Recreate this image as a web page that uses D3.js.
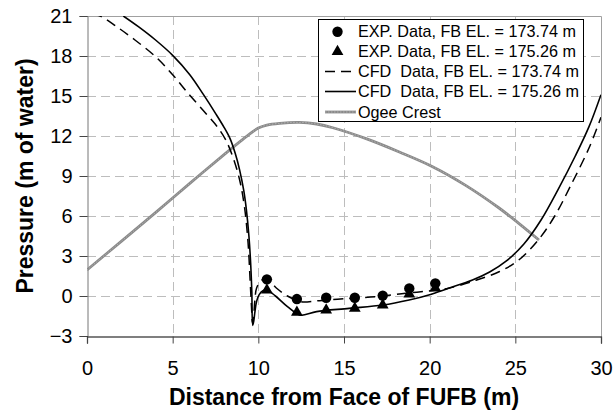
<!DOCTYPE html>
<html><head><meta charset="utf-8">
<script src="https://cdn.jsdelivr.net/npm/d3@7"></script>
<style>body{margin:0;background:#fff}svg{display:block;font-family:Arial,"Liberation Sans",sans-serif}</style>
</head><body>
<script>
// ---- data ----
const xTicks = [0,5,10,15,20,25,30];
const yTicks = [-3,0,3,6,9,12,15,18,21];
const expX = [10.5,12.25,13.96,15.63,17.26,18.81,20.33];
const exp17374 = [1.25,-0.23,-0.13,-0.13,0.03,0.57,0.95];
const exp17526 = [0.45,-1.23,-1.05,-0.93,-0.68,0.15,0.6];
const cfd17374X = [0.3,0.76,1.73,2.8,4.0,5.0,5.9,6.9,7.6,8.1,8.52,8.91,9.2,9.4,9.52,9.6,9.66,9.72,9.8,9.9,10.17,10.5,11.05,11.7,12.3,12.6,13.57,15.3,16.87,18.6,20.4,21.1,22.5,24.05,25.2,26.4,27.3,28.2,29.3,30];
const cfd17374Y = [21.1,21.0,20.2,19.2,17.95,16.6,15.2,13.75,12.7,11.7,10.4,8.7,6.6,4.0,1.2,-0.8,-2.0,-1.6,-0.3,0.6,1.15,1.3,0.6,0.0,-0.35,-0.45,-0.35,-0.18,-0.05,0.2,0.45,0.58,1.1,1.82,2.7,4.3,6.0,8.2,11.1,13.4];
const cfd17526X = [2.12,3.0,4.0,5.0,6.0,6.8,7.5,8.0,8.35,8.65,8.9,9.15,9.3,9.45,9.55,9.62,9.67,9.73,9.8,9.9,10.05,10.27,10.5,11.0,11.7,12.4,12.7,13.4,15.3,17.26,18.8,20.0,21.1,22.5,23.5,24.5,25.5,26.5,27.5,28.5,29.3,30];
const cfd17526Y = [21.0,20.2,19.2,18.05,16.6,15.1,13.7,12.65,11.8,10.7,9.5,7.9,6.5,4.5,2.5,0.3,-2.2,-1.9,-1.2,-0.4,0.1,0.4,0.45,0.0,-0.8,-1.43,-1.4,-1.17,-0.93,-0.68,-0.3,0.1,0.58,1.2,1.8,2.65,3.9,5.7,8.0,10.5,12.7,15.1];
const ogeeX = [0,2,4,6,8,9,9.6,10,10.5,11.24,12.4,13.4,14.35,16.29,18.23,20.17,22.1,24.05,25.2,26.38];
const ogeeY = [1.95,4.1,6.25,8.45,10.6,11.65,12.25,12.6,12.82,12.95,13.02,12.9,12.62,11.8,10.8,9.7,8.3,6.6,5.45,4.2];
const legendLabels = ["EXP. Data, FB EL. = 173.74 m","EXP. Data, FB EL. = 175.26 m","CFD  Data, FB EL. = 173.74 m","CFD  Data, FB EL. = 175.26 m","Ogee Crest"];

// ---- layout ----
const W=613,H=412, L=87, R=601, T=16, B=336;
const svg=d3.select("body").append("svg").attr("width",W).attr("height",H);
const x=d3.scaleLinear().domain([0,30]).range([L,R]);
const y=d3.scaleLinear().domain([-3,21]).range([B,T]);

// gridlines
const grid=svg.append("g").attr("stroke","#bdbdbd").attr("stroke-width",1).attr("stroke-dasharray","9,5");
grid.selectAll("line.h").data(yTicks.filter(d=>d>-3&&d<21)).join("line")
  .attr("x1",L).attr("x2",R).attr("y1",d=>Math.round(y(d))+0.5).attr("y2",d=>Math.round(y(d))+0.5);
grid.selectAll("line.v").data(xTicks.filter(d=>d>0&&d<30)).join("line")
  .attr("y1",T).attr("y2",B).attr("x1",d=>Math.round(x(d))+0.5).attr("x2",d=>Math.round(x(d))+0.5);

// frame top/right
svg.append("path").attr("d",`M${L},${T+0.5}H${R+0.5}V${B}`).attr("fill","none").attr("stroke","#a0a0a0");

// axes
const yAxis=svg.append("g").attr("transform",`translate(${L+0.5},0)`)
  .call(d3.axisLeft(y).tickValues(yTicks).tickSize(8).tickPadding(7).tickFormat(d3.format("d")));
yAxis.select(".domain").attr("stroke","#777");
yAxis.selectAll(".tick line").attr("stroke","#444");
yAxis.selectAll("text").attr("font-size",20).attr("fill","#000").attr("font-family","Arial, 'Liberation Sans', sans-serif");
const xAxis=svg.append("g").attr("transform",`translate(0,${B+0.5})`)
  .call(d3.axisBottom(x).tickValues(xTicks).tickSize(7).tickPadding(17).tickFormat(d3.format("d")));
xAxis.select(".domain").attr("stroke","#000").attr("stroke-width",1.2);
xAxis.selectAll(".tick line").attr("stroke","#444");
xAxis.selectAll("text").attr("font-size",20).attr("fill","#000").attr("font-family","Arial, 'Liberation Sans', sans-serif");

// clip
svg.append("clipPath").attr("id","pc").append("rect").attr("x",L).attr("y",T).attr("width",R-L).attr("height",B-T);
const plot=svg.append("g").attr("clip-path","url(#pc)");
const line=d3.line().x(d=>x(d[0])).y(d=>y(d[1])).curve(d3.curveCatmullRom.alpha(0.5));

// ogee
const ogee=d3.zip(ogeeX,ogeeY);
plot.append("path").datum(ogee).attr("d",line).attr("fill","none").attr("stroke","#8a8a8a").attr("stroke-width",2.8);
plot.append("path").datum(ogee).attr("d",line).attr("fill","none").attr("stroke","#b4b4b4").attr("stroke-width",0.9).attr("stroke-dasharray","1.5,1.5");

// CFD
plot.append("path").datum(d3.zip(cfd17374X,cfd17374Y)).attr("d",line).attr("fill","none").attr("stroke","#000").attr("stroke-width",1.5).attr("stroke-dasharray","10,6");
plot.append("path").datum(d3.zip(cfd17526X,cfd17526Y)).attr("d",line).attr("fill","none").attr("stroke","#000").attr("stroke-width",1.6);

// EXP markers
const tri=d3.symbol().type(d3.symbolTriangle).size(60);
plot.selectAll("path.tri").data(d3.zip(expX,exp17526)).join("path").attr("class","tri")
  .attr("d",tri).attr("transform",d=>`translate(${x(d[0])},${y(d[1])})`).attr("fill","#000");
plot.selectAll("circle.c").data(d3.zip(expX,exp17374)).join("circle").attr("class","c")
  .attr("cx",d=>x(d[0])).attr("cy",d=>y(d[1])).attr("r",5.2).attr("fill","#000");

// titles
svg.append("text").attr("x",(L+R)/2).attr("y",405).attr("text-anchor","middle")
  .attr("font-size",23).attr("font-weight","bold").text("Distance from Face of FUFB (m)");
svg.append("text").attr("transform",`translate(33,${(T+B)/2}) rotate(-90)`).attr("text-anchor","middle")
  .attr("font-size",23).attr("font-weight","bold").text("Pressure (m of water)");

// legend
const lg=svg.append("g");
lg.append("rect").attr("x",318.5).attr("y",19.5).attr("width",265).attr("height",102).attr("fill","#fff").attr("stroke","#000");
const rowY=[31.7,51.5,71.5,91.5,112];
const lx0=325, lx1=356, tx=358;
lg.append("circle").attr("cx",337.5).attr("cy",rowY[0]).attr("r",5.2).attr("fill","#000");
lg.append("path").attr("d",tri).attr("transform",`translate(337.5,${rowY[1]})`).attr("fill","#000");
lg.append("line").attr("x1",lx0).attr("x2",lx1).attr("y1",rowY[2]).attr("y2",rowY[2]).attr("stroke","#000").attr("stroke-width",1.5).attr("stroke-dasharray","10,6");
lg.append("line").attr("x1",lx0).attr("x2",lx1).attr("y1",rowY[3]).attr("y2",rowY[3]).attr("stroke","#000").attr("stroke-width",1.6);
lg.append("line").attr("x1",lx0).attr("x2",lx1).attr("y1",rowY[4]).attr("y2",rowY[4]).attr("stroke","#8a8a8a").attr("stroke-width",2.8);
lg.append("line").attr("x1",lx0).attr("x2",lx1).attr("y1",rowY[4]).attr("y2",rowY[4]).attr("stroke","#b4b4b4").attr("stroke-width",0.9).attr("stroke-dasharray","1.5,1.5");
lg.selectAll("text").data(legendLabels).join("text").attr("x",tx).attr("y",(d,i)=>rowY[i]+5.7)
  .attr("font-size",16.2).style("white-space","pre").text(d=>d);
</script>
</body></html>
